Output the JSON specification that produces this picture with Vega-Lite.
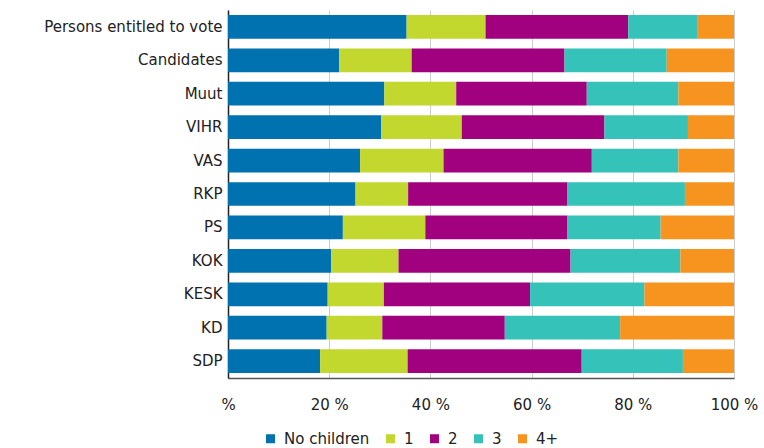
{
  "$schema": "https://vega.github.io/schema/vega-lite/v6.json",
  "width": 506,
  "height": 368,
  "autosize": {"type": "none"},
  "padding": {"left": 228, "top": 10, "right": 30, "bottom": 70},
  "background": "white",
  "config": {
    "view": {"stroke": null},
    "font": "DejaVu Sans"
  },
  "data": {
    "values": [
      {"group": "Persons entitled to vote", "children": "No children", "o": 0, "share": 35.3},
      {"group": "Persons entitled to vote", "children": "1", "o": 1, "share": 15.6},
      {"group": "Persons entitled to vote", "children": "2", "o": 2, "share": 28.2},
      {"group": "Persons entitled to vote", "children": "3", "o": 3, "share": 13.6},
      {"group": "Persons entitled to vote", "children": "4+", "o": 4, "share": 7.3},
      {"group": "Candidates", "children": "No children", "o": 0, "share": 22.0},
      {"group": "Candidates", "children": "1", "o": 1, "share": 14.3},
      {"group": "Candidates", "children": "2", "o": 2, "share": 30.2},
      {"group": "Candidates", "children": "3", "o": 3, "share": 20.2},
      {"group": "Candidates", "children": "4+", "o": 4, "share": 13.3},
      {"group": "Muut", "children": "No children", "o": 0, "share": 30.9},
      {"group": "Muut", "children": "1", "o": 1, "share": 14.2},
      {"group": "Muut", "children": "2", "o": 2, "share": 25.8},
      {"group": "Muut", "children": "3", "o": 3, "share": 18.1},
      {"group": "Muut", "children": "4+", "o": 4, "share": 11.0},
      {"group": "VIHR", "children": "No children", "o": 0, "share": 30.3},
      {"group": "VIHR", "children": "1", "o": 1, "share": 15.9},
      {"group": "VIHR", "children": "2", "o": 2, "share": 28.2},
      {"group": "VIHR", "children": "3", "o": 3, "share": 16.5},
      {"group": "VIHR", "children": "4+", "o": 4, "share": 9.1},
      {"group": "VAS", "children": "No children", "o": 0, "share": 26.1},
      {"group": "VAS", "children": "1", "o": 1, "share": 16.5},
      {"group": "VAS", "children": "2", "o": 2, "share": 29.3},
      {"group": "VAS", "children": "3", "o": 3, "share": 17.1},
      {"group": "VAS", "children": "4+", "o": 4, "share": 11.0},
      {"group": "RKP", "children": "No children", "o": 0, "share": 25.2},
      {"group": "RKP", "children": "1", "o": 1, "share": 10.4},
      {"group": "RKP", "children": "2", "o": 2, "share": 31.5},
      {"group": "RKP", "children": "3", "o": 3, "share": 23.2},
      {"group": "RKP", "children": "4+", "o": 4, "share": 9.7},
      {"group": "PS", "children": "No children", "o": 0, "share": 22.7},
      {"group": "PS", "children": "1", "o": 1, "share": 16.3},
      {"group": "PS", "children": "2", "o": 2, "share": 28.1},
      {"group": "PS", "children": "3", "o": 3, "share": 18.4},
      {"group": "PS", "children": "4+", "o": 4, "share": 14.5},
      {"group": "KOK", "children": "No children", "o": 0, "share": 20.4},
      {"group": "KOK", "children": "1", "o": 1, "share": 13.3},
      {"group": "KOK", "children": "2", "o": 2, "share": 34.0},
      {"group": "KOK", "children": "3", "o": 3, "share": 21.7},
      {"group": "KOK", "children": "4+", "o": 4, "share": 10.6},
      {"group": "KESK", "children": "No children", "o": 0, "share": 19.7},
      {"group": "KESK", "children": "1", "o": 1, "share": 11.1},
      {"group": "KESK", "children": "2", "o": 2, "share": 28.9},
      {"group": "KESK", "children": "3", "o": 3, "share": 22.6},
      {"group": "KESK", "children": "4+", "o": 4, "share": 17.7},
      {"group": "KD", "children": "No children", "o": 0, "share": 19.5},
      {"group": "KD", "children": "1", "o": 1, "share": 11.0},
      {"group": "KD", "children": "2", "o": 2, "share": 24.2},
      {"group": "KD", "children": "3", "o": 3, "share": 22.8},
      {"group": "KD", "children": "4+", "o": 4, "share": 22.5},
      {"group": "SDP", "children": "No children", "o": 0, "share": 18.2},
      {"group": "SDP", "children": "1", "o": 1, "share": 17.3},
      {"group": "SDP", "children": "2", "o": 2, "share": 34.4},
      {"group": "SDP", "children": "3", "o": 3, "share": 20.0},
      {"group": "SDP", "children": "4+", "o": 4, "share": 10.1}
    ]
  },
  "mark": {"type": "bar"},
  "encoding": {
    "y": {
      "field": "group",
      "type": "nominal",
      "sort": null,
      "title": null,
      "scale": {"paddingInner": 0.29, "paddingOuter": 0.15},
      "axis": {
        "domainColor": "#222222",
        "domainWidth": 1.5,
        "ticks": false,
        "labelFontSize": 15,
        "labelColor": "#222222",
        "labelPadding": 6,
        "labelLimit": 0
      }
    },
    "x": {
      "field": "share",
      "type": "quantitative",
      "stack": "normalize",
      "title": null,
      "scale": {"domain": [0, 1], "nice": false},
      "axis": {
        "values": [0, 0.2, 0.4, 0.6, 0.8, 1],
        "labelExpr": "datum.value == 0 ? '%' : round(datum.value * 100) + ' %'",
        "labelFlush": false,
        "grid": true,
        "gridColor": "#cccccc",
        "gridWidth": 1,
        "domainColor": "#555555",
        "domainWidth": 1.5,
        "ticks": false,
        "labelFontSize": 15,
        "labelColor": "#222222",
        "labelPadding": 19
      }
    },
    "color": {
      "field": "children",
      "type": "nominal",
      "sort": ["No children", "1", "2", "3", "4+"],
      "scale": {
        "domain": ["No children", "1", "2", "3", "4+"],
        "range": ["#0072B0", "#C2D82F", "#A1007F", "#35C2B8", "#F7931F"]
      },
      "legend": {
        "orient": "none",
        "legendX": 35,
        "legendY": 421,
        "direction": "horizontal",
        "title": null,
        "symbolType": "square",
        "symbolSize": 81,
        "symbolStrokeWidth": 0,
        "labelFontSize": 15,
        "labelColor": "#222222",
        "columnPadding": 13,
        "labelOffset": 6
      }
    },
    "order": {"field": "o", "type": "quantitative"}
  }
}
